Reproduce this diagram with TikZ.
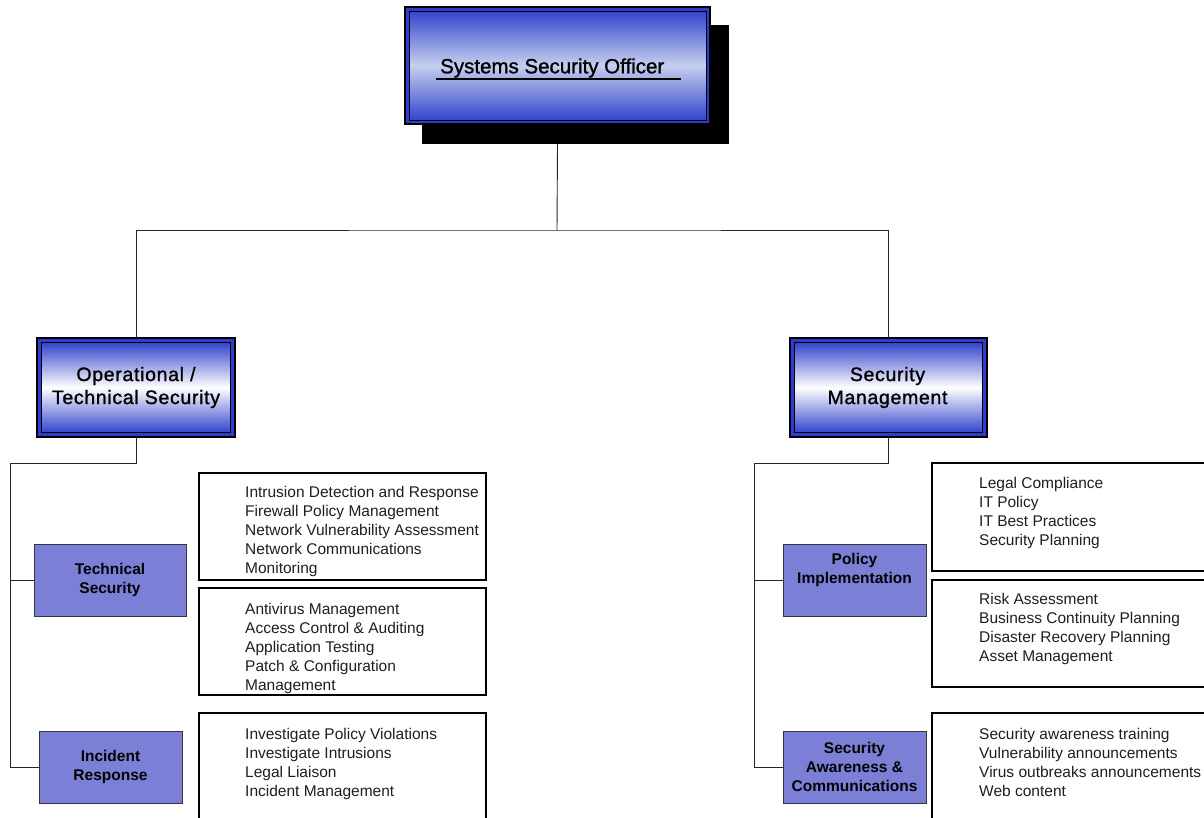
\documentclass[tikz,border=0pt]{standalone}
\usepackage{fontspec}
\setmainfont{Liberation Sans}
\newfontfamily\midfont[LetterSpace=3.5,FakeBold=1.2]{Liberation Sans}
\newfontfamily\ttlfont[FakeBold=1.2]{Liberation Sans}
\definecolor{bandblue}{HTML}{2F3CD2}
\definecolor{edgeblue}{HTML}{3344CC}
\definecolor{paleblue}{HTML}{C6CFEE}
\definecolor{subfill}{HTML}{7B80D6}
\definecolor{subedge}{HTML}{333344}
\definecolor{txtgray}{HTML}{1E1E1E}
\tikzset{
  bandbox/.style={fill=bandblue, draw=black, line width=1.2pt, inner sep=0pt, outer sep=0pt},
  gradbox/.style={draw=black, line width=1pt, inner sep=0pt, outer sep=0pt, top color=edgeblue, bottom color=edgeblue, middle color=#1},
  subbox/.style={fill=subfill, draw=subedge, line width=1pt, inner sep=0pt, outer sep=0pt, minimum width=143pt, minimum height=72pt, align=center, font=\fontsize{15.5}{19}\selectfont\bfseries},
  subtext/.style={align=center, inner sep=0pt, font=\fontsize{15.5}{19}\selectfont\bfseries},
  listbox/.style={draw=black, line width=1.8pt, inner sep=0pt, outer sep=0pt, minimum width=287pt},
  listtext/.style={anchor=north west, inner sep=0pt, align=left, text=txtgray, font=\fontsize{15.5}{19}\selectfont},
  midtext/.style={align=center, inner sep=0pt, font=\fontsize{19.5}{23}\midfont},
  conn/.style={draw=black!85, line width=0.9pt}
}
\begin{document}
\begin{tikzpicture}[x=1pt,y=-1pt]
\useasboundingbox (0,0) rectangle (1204,817);
% top box
\node[fill=black, inner sep=0pt, outer sep=0pt, minimum width=307pt, minimum height=119pt] (shadow) at (575.5,84.5) {};
\node[bandbox, minimum width=305pt, minimum height=117pt] (sso) at (557.5,65.5) {};
\node[gradbox=paleblue, minimum width=297pt, minimum height=109pt] (ssoin) at (557.5,65.5) {};
\node[anchor=base west, inner sep=0pt, font=\fontsize{20.5}{24}\ttlfont] (ttl) at (440,73.3) {Systems Security Officer};
\draw[line width=1.8pt] (436,79) -- (681,79);
% mid boxes
\node[bandbox, minimum width=198pt, minimum height=99pt] (ops) at (136,387.5) {};
\node[gradbox=white, minimum width=189pt, minimum height=90pt] (opsin) at (136,387.5) {};
\node[midtext] (opst) at (136,387.5) {Operational /\\Technical Security};
\node[bandbox, minimum width=197pt, minimum height=99pt] (mgmt) at (888.5,387.5) {};
\node[gradbox=white, minimum width=188pt, minimum height=90pt] (mgmtin) at (888.5,387.5) {};
\node[midtext] (mgmtt) at (887.5,387.5) {Security\\Management};
% connectors top
\coordinate (j) at (557,230);
\draw[conn] (shadow.south -| sso.south) -- (j);
\draw[conn] (ops.north) |- (j) -| (mgmt.north);
% left sub boxes
\node[subbox, minimum width=152pt] (ts) at (110,580) {Technical\\Security};
\node[subbox] (ir) at (110.5,767) {Incident\\Response};
\coordinate (lb) at (10,463);
\draw[conn] (ops.south) |- (lb) |- (ts.west);
\draw[conn] (lb) |- (ir.west);
% right sub boxes
\node[subbox] (pi) at (854.5,580) {};
\node[subtext] (pit) at (854.5,569.5) {Policy\\Implementation};
\node[subbox] (sa) at (854.5,767) {Security\\Awareness \&\\Communications};
\coordinate (rb) at (754,463);
\draw[conn] (mgmt.south) |- (rb) |- (pi.west);
\draw[conn] (rb) |- (sa.west);
% left list boxes
\node[listbox, minimum height=107pt] (l1) at (342.5,526.5) {};
\node[listbox, minimum height=107pt] (l2) at (342.5,641.5) {};
\node[listbox, minimum height=117pt] (l3) at (342.5,771.5) {};
\node[listtext] (l1t) at (245,486.5) {Intrusion Detection and Response\\Firewall Policy Management\\Network Vulnerability Assessment\\Network Communications\\Monitoring};
\node[listtext] (l2t) at (245,603) {Antivirus Management\\Access Control \& Auditing\\Application Testing\\Patch \& Configuration\\Management};
\node[listtext] (l3t) at (245,728) {Investigate Policy Violations\\Investigate Intrusions\\Legal Liaison\\Incident Management};
% right list boxes
\node[listbox, minimum height=108pt] (r1) at (1075.5,517) {};
\node[listbox, minimum height=107pt] (r2) at (1075.5,633.5) {};
\node[listbox, minimum height=117pt] (r3) at (1075.5,771.5) {};
\node[listtext] (r1t) at (979,477) {Legal Compliance\\IT Policy\\IT Best Practices\\Security Planning};
\node[listtext] (r2t) at (979,593.5) {Risk Assessment\\Business Continuity Planning\\Disaster Recovery Planning\\Asset Management};
\node[listtext] (r3t) at (979,728) {Security awareness training\\Vulnerability announcements\\Virus outbreaks announcements\\Web content};
\end{tikzpicture}
\end{document}
